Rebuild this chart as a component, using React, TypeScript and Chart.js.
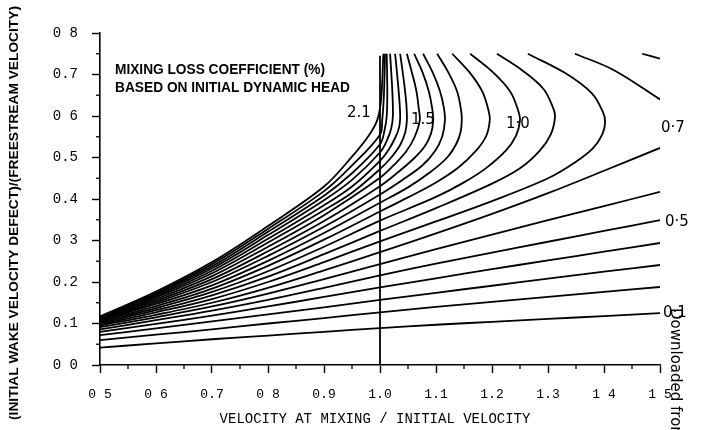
import React, { useEffect, useRef } from "react";
import { Chart, registerables } from "chart.js";
Chart.register(...registerables);

// ---- Axis ticks ----
const X_TICK_LABELS = ["0 5", "0 6", "0.7", "0 8", "0.9", "1.0", "1.1", "1.2", "1.3", "1 4", "1 5"];
const Y_TICK_LABELS = ["0 0", "0.1", "0.2", "0 3", "0.4", "0.5", "0 6", "0.7", "0 8"];
const X_MINOR = [0.55, 0.65, 0.75, 0.85, 0.95, 1.05, 1.15, 1.25, 1.35, 1.45];
const Y_MINOR = [0.05, 0.15, 0.25, 0.35, 0.45, 0.55, 0.65, 0.75];

// ---- Contours of mixing loss coefficient (%) : [velocity ratio, wake defect] ----
const C01 = [[0.5,0.042],[0.6,0.052],[0.7,0.062],[0.8,0.071],[0.9,0.080],[1.0,0.089],[1.1,0.097],[1.2,0.104],[1.3,0.111],[1.4,0.118],[1.5,0.125]];
const C02 = [[0.5,0.060],[0.6,0.073],[0.7,0.086],[0.8,0.100],[0.9,0.113],[1.0,0.127],[1.1,0.140],[1.2,0.152],[1.3,0.164],[1.4,0.176],[1.5,0.188]];
const C03 = [[0.5,0.072],[0.6,0.088],[0.7,0.105],[0.8,0.122],[0.9,0.139],[1.0,0.157],[1.1,0.174],[1.2,0.191],[1.3,0.208],[1.4,0.225],[1.5,0.241]];
const C04 = [[0.5,0.080],[0.6,0.099],[0.7,0.119],[0.8,0.141],[0.9,0.164],[1.0,0.187],[1.1,0.209],[1.2,0.231],[1.3,0.252],[1.4,0.273],[1.5,0.294]];
const C05 = [[0.5,0.086],[0.6,0.108],[0.7,0.131],[0.8,0.157],[0.9,0.186],[1.0,0.216],[1.1,0.244],[1.2,0.271],[1.3,0.297],[1.4,0.323],[1.5,0.349]];
const C06 = [[0.5,0.091],[0.6,0.115],[0.7,0.141],[0.8,0.172],[0.9,0.207],[1.0,0.243],[1.1,0.279],[1.2,0.314],[1.3,0.349],[1.4,0.383],[1.5,0.417]];
const C06_UPPER = [[1.468,0.75],[1.5,0.738]];
const C07 = [[0.5,0.095],[0.6,0.121],[0.7,0.150],[0.8,0.186],[0.9,0.228],[1.0,0.272],[1.1,0.317],[1.2,0.364],[1.3,0.414],[1.4,0.468],[1.5,0.523]];
const C07_UPPER = [[1.348,0.75],[1.417,0.711],[1.5,0.640]];
const C08 = [[0.5,0.098],[0.6,0.127],[0.7,0.159],[0.8,0.200],[0.9,0.248],[1.0,0.298],[1.1,0.346],[1.2,0.395],[1.3,0.450],[1.35,0.490],[1.38,0.522],[1.397,0.556],[1.402,0.585],[1.398,0.610],[1.378,0.655],[1.33,0.704],[1.264,0.75]];
const C09 = [[0.5,0.101],[0.6,0.132],[0.7,0.168],[0.8,0.213],[0.9,0.267],[1.0,0.323],[1.1,0.378],[1.2,0.437],[1.25,0.474],[1.285,0.516],[1.305,0.556],[1.3125,0.598],[1.309,0.620],[1.292,0.665],[1.256,0.708],[1.209,0.75]];
const C10 = [[0.5,0.103],[0.6,0.137],[0.7,0.176],[0.8,0.226],[0.9,0.285],[1.0,0.348],[1.1,0.405],[1.15,0.440],[1.19,0.475],[1.225,0.517],[1.243,0.553],[1.25,0.59],[1.247,0.612],[1.233,0.658],[1.202,0.705],[1.161,0.75]];
const C11 = [[0.5,0.105],[0.6,0.142],[0.7,0.184],[0.8,0.239],[0.9,0.302],[1.0,0.370],[1.05,0.404],[1.1,0.440],[1.14,0.476],[1.172,0.517],[1.19,0.553],[1.196,0.59],[1.194,0.612],[1.183,0.658],[1.160,0.705],[1.129,0.75]];
const C12 = [[0.5,0.107],[0.6,0.147],[0.7,0.192],[0.8,0.251],[0.9,0.318],[1.0,0.391],[1.05,0.428],[1.09,0.465],[1.12,0.500],[1.137,0.535],[1.144,0.562],[1.146,0.59],[1.145,0.612],[1.138,0.658],[1.122,0.705],[1.102,0.75]];
const C13 = [[0.5,0.108],[0.6,0.151],[0.7,0.200],[0.8,0.263],[0.9,0.333],[1.0,0.411],[1.04,0.446],[1.075,0.480],[1.098,0.515],[1.111,0.550],[1.116,0.59],[1.114,0.62],[1.107,0.66],[1.094,0.705],[1.077,0.75]];
const C14 = [[0.5,0.110],[0.6,0.155],[0.7,0.207],[0.8,0.274],[0.9,0.347],[1.0,0.431],[1.03,0.462],[1.06,0.497],[1.08,0.527],[1.091,0.557],[1.095,0.59],[1.093,0.62],[1.087,0.66],[1.076,0.705],[1.061,0.75]];
const C15 = [[0.5,0.111],[0.6,0.159],[0.7,0.214],[0.8,0.285],[0.9,0.361],[1.0,0.451],[1.025,0.482],[1.047,0.515],[1.062,0.550],[1.071,0.59],[1.069,0.62],[1.065,0.66],[1.057,0.705],[1.048,0.75]];
const C16 = [[0.5,0.112],[0.6,0.163],[0.7,0.221],[0.8,0.295],[0.9,0.373],[0.95,0.415],[1.0,0.472],[1.02,0.50],[1.036,0.53],[1.045,0.56],[1.048,0.59],[1.047,0.63],[1.043,0.68],[1.036,0.75]];
const C17 = [[0.5,0.113],[0.6,0.166],[0.7,0.227],[0.8,0.304],[0.9,0.385],[0.95,0.430],[1.0,0.492],[1.016,0.52],[1.028,0.55],[1.034,0.572],[1.036,0.595],[1.035,0.63],[1.032,0.68],[1.027,0.75]];
const C18 = [[0.5,0.114],[0.6,0.169],[0.7,0.233],[0.8,0.313],[0.9,0.397],[0.95,0.446],[1.0,0.512],[1.012,0.54],[1.02,0.57],[1.023,0.60],[1.022,0.66],[1.018,0.75]];
const C19 = [[0.5,0.115],[0.6,0.172],[0.7,0.238],[0.8,0.321],[0.9,0.408],[0.95,0.462],[1.0,0.532],[1.008,0.565],[1.012,0.60],[1.013,0.66],[1.012,0.75]];
const C20 = [[0.5,0.116],[0.6,0.174],[0.7,0.243],[0.8,0.328],[0.9,0.419],[0.95,0.481],[1.0,0.555],[1.004,0.59],[1.007,0.65],[1.009,0.75]];
const C21 = [[0.5,0.117],[0.6,0.177],[0.7,0.248],[0.8,0.335],[0.9,0.430],[0.95,0.502],[0.98,0.553],[0.995,0.59],[1.002,0.64],[1.006,0.75]];
const V_LINE = [[1.0,0.0],[1.0,0.745]];

const CONTOURS = [C01, C02, C03, C04, C05, C06, C06_UPPER, C07, C07_UPPER, C08, C09, C10, C11, C12, C13, C14, C15, C16, C17, C18, C19, C20, C21];

// ---- Texts ----
const Y_TITLE = "(INITIAL WAKE VELOCITY DEFECT)/(FREESTREAM VELOCITY)";
const X_TITLE = "VELOCITY AT MIXING / INITIAL VELOCITY";
const NOTE_1 = "MIXING LOSS COEFFICIENT (%)";
const NOTE_2 = "BASED ON INITIAL DYNAMIC HEAD";
const CONTOUR_LABELS = ["2.1", "1.5", "1·0", "0·7", "0·5", "0·1"];
const SOURCE = "Downloaded from";

export default function App() {
  const ref = useRef<HTMLCanvasElement | null>(null);

  useEffect(() => {
    document.body.style.margin = "0";
    const canvas = ref.current;
    if (!canvas) return;

    const toPts = (arr: number[][]) => arr.map(([x, y]) => ({ x, y }));
    const datasets: any[] = CONTOURS.map((c) => ({
      data: toPts(c),
      showLine: true,
      borderColor: "#000",
      borderWidth: 1.8,
      pointRadius: 0,
      tension: 0.35,
      fill: false,
    }));
    datasets.push({
      data: toPts(V_LINE),
      showLine: true,
      borderColor: "#000",
      borderWidth: 1.8,
      pointRadius: 0,
      tension: 0,
    });

    const drawScaled = (c: CanvasRenderingContext2D, text: string, x: number, y: number, targetW: number) => {
      const w = c.measureText(text).width;
      c.save();
      c.translate(x, y);
      c.scale(targetW / w, 1);
      c.fillText(text, 0, 0);
      c.restore();
    };

    const overlay = {
      id: "overlay",
      afterDraw(chart: any) {
        const c: CanvasRenderingContext2D = chart.ctx;
        const xs = chart.scales.x;
        const ys = chart.scales.y;
        c.save();
        c.strokeStyle = "#000";
        c.fillStyle = "#000";
        c.lineWidth = 1.3;
        // minor ticks
        for (const v of X_MINOR) {
          const px = xs.getPixelForValue(v);
          c.beginPath();
          c.moveTo(px, ys.bottom);
          c.lineTo(px, ys.bottom + 4);
          c.stroke();
        }
        for (const v of Y_MINOR) {
          const py = ys.getPixelForValue(v);
          c.beginPath();
          c.moveTo(xs.left - 4, py);
          c.lineTo(xs.left, py);
          c.stroke();
        }
        // y title
        c.font = 'bold 12px "Liberation Sans"';
        c.textAlign = "left";
        c.textBaseline = "middle";
        c.save();
        c.translate(15, 420);
        c.rotate(-Math.PI / 2);
        drawScaled(c, Y_TITLE, 0, 0, 414);
        c.restore();
        // x title
        c.font = '14px "Liberation Mono"';
        c.textAlign = "center";
        c.textBaseline = "alphabetic";
        c.fillText(X_TITLE, 375, 423);
        // note
        c.textAlign = "left";
        c.font = 'bold 14px "Liberation Sans"';
        drawScaled(c, NOTE_1, 115, 74, 210);
        drawScaled(c, NOTE_2, 115, 92, 235);
        // contour labels
        c.font = '15px "DejaVu Sans"';
        c.fillText(CONTOUR_LABELS[0], 347, 117);
        c.fillText(CONTOUR_LABELS[1], 411, 124);
        c.fillText(CONTOUR_LABELS[2], 506, 128);
        c.fillText(CONTOUR_LABELS[3], 661, 132);
        c.fillText(CONTOUR_LABELS[4], 665, 226);
        c.fillText(CONTOUR_LABELS[5], 663, 317);
        // source note
        c.save();
        c.translate(675, 308);
        c.rotate(Math.PI / 2);
        c.font = '15px "DejaVu Sans"';
        c.textBaseline = "middle";
        c.fillText(SOURCE, 0, 0);
        c.restore();
        c.restore();
      },
    };

    const chart = new Chart(canvas, {
      type: "scatter",
      data: { datasets },
      plugins: [overlay],
      options: {
        animation: false,
        responsive: false,
        events: [],
        layout: { padding: { left: 0, right: 46, top: 33, bottom: 0 } },
        plugins: { legend: { display: false }, tooltip: { enabled: false } },
        scales: {
          x: {
            type: "linear",
            min: 0.5,
            max: 1.5,
            afterFit: (s: any) => { s.height = 65; },
            ticks: {
              stepSize: 0.1,
              autoSkip: false,
              maxRotation: 0,
              padding: 14,
              color: "#000",
              font: { family: "Liberation Mono", size: 13 },
              callback: (v: any) => X_TICK_LABELS[Math.round((Number(v) - 0.5) * 10)] ?? "",
            },
            grid: { drawOnChartArea: false, drawTicks: true, tickLength: 8, tickColor: "#000", tickWidth: 1.4 },
            border: { display: true, color: "#000", width: 1.6 },
          },
          y: {
            type: "linear",
            min: 0,
            max: 0.8,
            afterFit: (s: any) => { s.width = 100; },
            ticks: {
              stepSize: 0.1,
              autoSkip: false,
              padding: 14,
              color: "#000",
              font: { family: "Liberation Mono", size: 14 },
              callback: (v: any) => Y_TICK_LABELS[Math.round(Number(v) * 10)] ?? "",
            },
            grid: { drawOnChartArea: false, drawTicks: true, tickLength: 8, tickColor: "#000", tickWidth: 1.4 },
            border: { display: true, color: "#000", width: 1.6 },
          },
        },
      },
    });
    return () => chart.destroy();
  }, []);

  return (
    <div style={{ width: 706, height: 430, background: "#fff" }}>
      <canvas ref={ref} width={706} height={430} style={{ display: "block" }} />
    </div>
  );
}
